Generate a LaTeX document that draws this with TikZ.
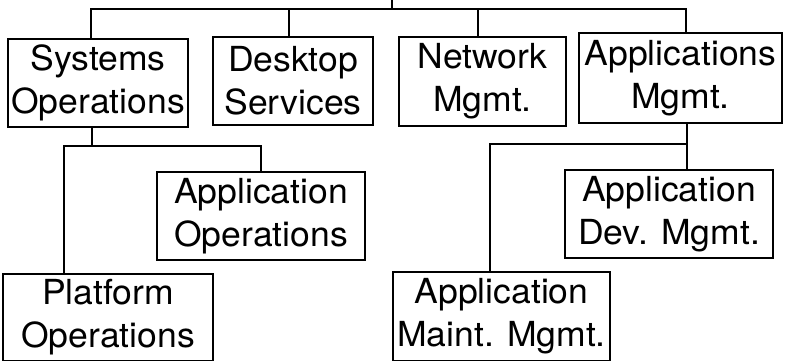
\documentclass[tikz,border=0pt]{standalone}
\usepackage{fontspec}
\setmainfont{TeX Gyre Heros}[FakeStretch=1.03]
\begin{document}
\begin{tikzpicture}[x=1pt,y=-1pt,
  box/.style={draw,line width=1.2pt,inner sep=0pt,align=center,
    font=\fontsize{34.5}{43}\selectfont},
  conn/.style={line width=1.2pt}]
\useasboundingbox (0,0) rectangle (786,360);
\node[box,minimum width=180pt,minimum height=88pt] (sysops) at (98,83) {Systems\\Operations};
\node[box,minimum width=160pt,minimum height=88pt] (desk) at (293,81) {Desktop\\Services};
\node[box,minimum width=167pt,minimum height=89pt] (net) at (482.5,81.5) {Network\\Mgmt.};
\node[box,minimum width=203pt,minimum height=90pt] (appm) at (680.5,78) {Applications\\Mgmt.};
\node[box,minimum width=208pt,minimum height=88pt] (appops) at (261,216) {Application\\Operations};
\node[box,minimum width=210pt,minimum height=87pt] (plat) at (108,317.5) {Platform\\Operations};
\node[box,minimum width=208pt,minimum height=88pt] (appdev) at (669,214) {Application\\Dev. Mgmt.};
\node[box,minimum width=217pt,minimum height=89pt] (appmaint) at (501.5,316.5) {Application\\Maint. Mgmt.};
\coordinate (top) at (392,-1);
\coordinate (bus) at (392,9);
\coordinate (b1) at (92,146);
\coordinate (b2) at (687,144);
\coordinate (dtop) at ([xshift=-4pt]desk.north);
\coordinate (ntop) at ([xshift=-4.5pt]net.north);
\draw[conn] (top) -- (bus);
\draw[conn] ([xshift=-7pt]sysops.north) |- (bus);
\draw[conn] ([xshift=5.5pt]appm.north) |- (bus);
\draw[conn] (dtop) -- (dtop |- bus);
\draw[conn] (ntop) -- (ntop |- bus);
\draw[conn] ([xshift=-6pt]sysops.south) -- (b1);
\draw[conn] ([xshift=-44pt]plat.north) |- (b1);
\draw[conn] (appops.north) |- (b1);
\draw[conn] ([xshift=6.5pt]appm.south) -- (b2);
\draw[conn] ([xshift=18pt]appdev.north) -- (b2);
\draw[conn] ([xshift=-11.5pt]appmaint.north) |- (b2);
\end{tikzpicture}
\end{document}
